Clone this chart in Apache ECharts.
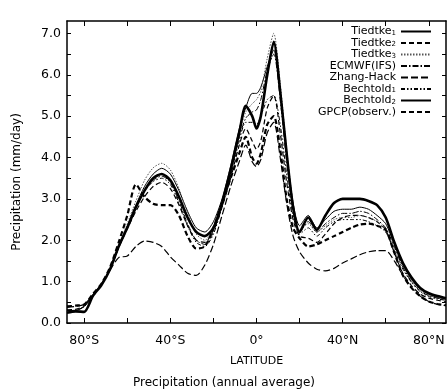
<!DOCTYPE html>
<html><head><meta charset="utf-8">
<script src="https://cdn.jsdelivr.net/npm/echarts@6/dist/echarts.min.js"></script>
<style>html,body{margin:0;padding:0;background:#fff}#c{width:448px;height:392px}</style>
</head><body><div id="c"></div>
<script>
const lats = [-88,-84,-80,-76,-72,-68,-64,-60,-56,-52,-48,-44,-40,-36,-32,-28,-24,-20,-16,-12,-8,-5,-2,0,2,5,8,11,14,17,20,24,28,32,36,40,44,48,52,56,60,64,68,72,76,80,84,88];
const tiedtke1 = [0.30,0.30,0.40,0.65,0.95,1.30,1.85,2.35,2.85,3.30,3.60,3.74,3.60,3.20,2.70,2.30,2.20,2.45,3.00,3.80,4.70,5.20,5.55,5.55,5.70,6.20,6.60,5.60,4.10,2.90,2.35,2.60,2.30,2.50,2.70,2.75,2.75,2.80,2.75,2.60,2.40,1.90,1.40,1.05,0.82,0.70,0.62,0.58];
const tiedtke2 = [0.32,0.33,0.42,0.66,0.94,1.30,1.82,2.28,2.70,3.05,3.30,3.40,3.25,2.85,2.35,2.00,1.95,2.25,2.80,3.50,4.30,4.70,4.40,4.20,4.40,5.20,5.50,4.60,3.40,2.50,2.10,2.05,1.95,2.15,2.40,2.55,2.60,2.60,2.55,2.45,2.25,1.70,1.20,0.90,0.70,0.60,0.55,0.52];
const tiedtke3 = [0.30,0.31,0.40,0.65,0.95,1.30,1.85,2.40,2.95,3.45,3.75,3.86,3.70,3.25,2.65,2.15,2.00,2.30,2.90,3.70,4.60,5.10,5.30,5.40,5.60,6.40,7.00,5.80,4.20,2.90,2.25,2.40,2.20,2.35,2.50,2.55,2.55,2.60,2.55,2.45,2.25,1.80,1.35,1.00,0.80,0.68,0.60,0.56];
const ecmwf = [0.30,0.31,0.40,0.65,0.95,1.30,1.83,2.30,2.78,3.20,3.45,3.55,3.40,2.95,2.40,2.00,1.90,2.20,2.85,3.60,4.50,4.95,5.10,5.15,5.40,6.10,6.50,5.40,3.90,2.70,2.20,2.45,2.20,2.40,2.55,2.65,2.65,2.70,2.65,2.50,2.30,1.85,1.35,1.00,0.78,0.66,0.60,0.56];
const zhangHack = [0.38,0.40,0.45,0.68,0.93,1.28,1.58,1.62,1.85,1.98,1.95,1.85,1.60,1.40,1.20,1.15,1.40,1.90,2.60,3.30,3.90,4.30,3.90,3.78,3.95,4.60,4.85,4.00,2.90,2.10,1.72,1.45,1.30,1.26,1.32,1.45,1.55,1.65,1.72,1.75,1.75,1.50,1.15,0.85,0.65,0.52,0.45,0.42];
const bechtold1 = [0.30,0.31,0.40,0.65,0.95,1.30,1.83,2.30,2.78,3.18,3.42,3.50,3.35,2.90,2.35,1.95,1.85,2.15,2.80,3.55,4.40,4.85,4.85,4.80,5.00,5.40,5.50,4.80,3.60,2.60,2.15,2.30,2.10,2.30,2.45,2.50,2.50,2.50,2.45,2.35,2.20,1.75,1.30,0.98,0.76,0.64,0.58,0.55];
const bechtold2 = [0.25,0.28,0.27,0.65,0.92,1.30,1.85,2.30,2.80,3.20,3.50,3.60,3.45,3.05,2.55,2.20,2.10,2.30,2.90,3.70,4.60,5.25,5.00,4.70,5.00,6.00,6.80,5.60,4.10,2.80,2.20,2.55,2.25,2.60,2.90,3.00,3.00,3.00,2.95,2.85,2.55,1.95,1.45,1.10,0.85,0.72,0.65,0.60];
const gpcp = [0.40,0.42,0.45,0.70,0.95,1.35,1.95,2.60,3.35,3.05,2.88,2.85,2.85,2.60,2.10,1.80,1.85,2.30,2.90,3.50,4.10,4.50,4.00,3.85,4.10,4.80,5.00,4.20,3.00,2.30,2.05,1.85,1.90,2.00,2.10,2.20,2.30,2.38,2.40,2.35,2.25,1.70,1.15,0.85,0.65,0.52,0.46,0.43];

const names = ['Tiedtke1','Tiedtke2','Tiedtke3','ECMWF(IFS)','Zhang-Hack','Bechtold1','Bechtold2','GPCP(observ.)'];
const values = [tiedtke1,tiedtke2,tiedtke3,ecmwf,zhangHack,bechtold1,bechtold2,gpcp];
const styles = [
  {width:1, type:'solid', color:'#000'},
  {width:1.2, type:[5,3], color:'#000'},
  {width:1, type:[1.5,1.5], color:'#555'},
  {width:1, type:[6,2,1.5,2], color:'#000'},
  {width:1.2, type:[7,3], color:'#000'},
  {width:1, type:[4,2,1.5,2,1.5,2], color:'#000'},
  {width:2.6, type:'solid', color:'#000'},
  {width:2.2, type:[5,3], color:'#000'}
];
const xTicks = [-80,-60,-40,-20,0,20,40,60,80];
const xLabels = [-80,-40,0,40,80];
const yTicks = [0,0.5,1,1.5,2,2.5,3,3.5,4,4.5,5,5.5,6,6.5,7];
const yLabels = [0,1,2,3,4,5,6,7];

const FONT = 'DejaVu Sans';
function latFmt(v){ if(v===0) return '0°'; return Math.abs(v)+'°'+(v<0?'S':'N'); }
function legendFmt(n){
  const m = n.match(/^(.*?)(\d)$/);
  if(m) return '{n|'+m[1]+'}{s|'+m[2]+'}';
  return '{n|'+n+'}';
}
const series = names.map((n,i)=>({
  name:n, type:'line', symbol:'none', smooth:0.25,
  data: lats.map((la,j)=>[la, values[i][j]]),
  lineStyle: styles[i], itemStyle:{color:styles[i].color},
  xAxisIndex:0, yAxisIndex:0, z: i===6?5:3
}));

const chart = echarts.init(document.getElementById('c'), null, {renderer:'canvas'});
const axisCommon = {axisLine:{show:true,onZero:false,lineStyle:{color:'#000',width:1.5}}, splitLine:{show:false}};
chart.setOption({
  animation:false,
  textStyle:{fontFamily:FONT},
  grid:{left:67, right:2, top:21, bottom:69},
  title:{text:'Precipitation (annual average)', left:'center', bottom:-2, textStyle:{fontFamily:FONT, fontSize:12, fontWeight:'normal', color:'#000'}},
  legend:{
    orient:'vertical', right:16, top:26, align:'right', itemWidth:30, itemHeight:9, itemGap:0.5, padding:0,
    data:names,
    itemStyle:{opacity:0},
    formatter: legendFmt,
    textStyle:{fontFamily:FONT, color:'#000', fontSize:11, lineHeight:10,
      rich:{n:{fontSize:11, lineHeight:10, color:'#000', fontFamily:FONT}, s:{fontSize:7, lineHeight:10, verticalAlign:'bottom', color:'#000', fontFamily:FONT}}}
  },
  xAxis:[
    Object.assign({type:'value', min:-88, max:88, position:'bottom',
      name:'LATITUDE', nameLocation:'middle', nameGap:33, nameTextStyle:{fontFamily:FONT, fontSize:11, color:'#000'},
      axisTick:{show:true, inside:true, length:5, customValues:xTicks, lineStyle:{color:'#000'}},
      axisLabel:{customValues:xLabels, formatter:latFmt, fontFamily:FONT, fontSize:12.5, color:'#000', margin:11}}, axisCommon),
    Object.assign({type:'value', min:-88, max:88, position:'top',
      axisTick:{show:true, inside:true, length:5, customValues:xTicks, lineStyle:{color:'#000'}},
      axisLabel:{show:false}}, axisCommon)
  ],
  yAxis:[
    Object.assign({type:'value', min:0, max:7.3, position:'left',
      name:'Precipitation (mm/day)', nameLocation:'middle', nameGap:44, nameRotate:90, nameTextStyle:{fontFamily:FONT, fontSize:12, color:'#000', padding:[0,0,0,-20]},
      axisTick:{show:true, inside:true, length:4, customValues:yTicks, lineStyle:{color:'#000'}},
      axisLabel:{customValues:yLabels, formatter:v=>v.toFixed(1), fontFamily:FONT, fontSize:12.5, color:'#000', margin:6}}, axisCommon),
    Object.assign({type:'value', min:0, max:7.3, position:'right',
      axisTick:{show:true, inside:true, length:4, customValues:yTicks, lineStyle:{color:'#000'}},
      axisLabel:{show:false}}, axisCommon)
  ],
  series: series
});
</script></body></html>
